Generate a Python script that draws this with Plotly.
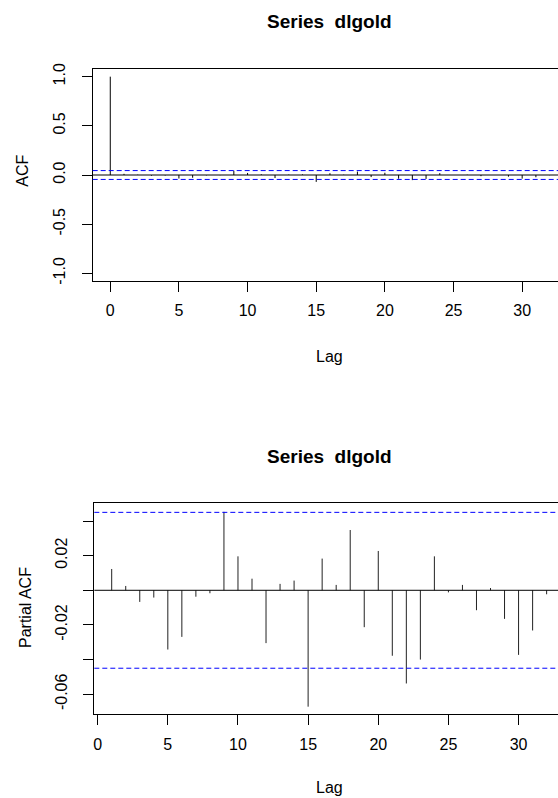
import plotly.graph_objects as go

# ---------------- data ----------------
series_title = "Series  dlgold"
acf_lags = list(range(0, 33))
acf_values = [1.0, 0.012, 0.003, -0.007, -0.005, -0.036, -0.028, -0.004, -0.002,
              0.044, 0.021, 0.007, -0.031, 0.004, 0.006, -0.070, 0.018, 0.003,
              0.035, -0.021, 0.023, -0.038, -0.052, -0.040, 0.019, -0.001, 0.003,
              -0.012, 0.001, -0.017, -0.037, -0.023, -0.002]
pacf_lags = list(range(1, 33))
pacf_values = [0.0123, 0.0025, -0.0067, -0.0042, -0.0342, -0.0269, -0.0037, -0.0017,
               0.0453, 0.0196, 0.0067, -0.0305, 0.0037, 0.0056, -0.0672, 0.0183,
               0.0031, 0.0348, -0.0213, 0.0227, -0.0378, -0.0538, -0.0400, 0.0196,
               -0.0012, 0.0031, -0.0115, 0.0013, -0.0165, -0.0373, -0.0232, -0.0023]
conf_limit = 0.045
x_tickvals = [0, 5, 10, 15, 20, 25, 30]
acf_ytickvals = [-1.0, -0.5, 0.0, 0.5, 1.0]
acf_yticktext = ["-1.0", "-0.5", "0.0", "0.5", "1.0"]
pacf_ytickvals = [-0.06, -0.04, -0.02, 0.0, 0.02, 0.04]
pacf_yticktext = ["-0.06", "", "-0.02", "", "0.02", ""]

# ---------------- layout helpers ----------------
W, H = 558, 798
FONT = "Liberation Sans, Arial, Helvetica, sans-serif"


def fx(px):
    return px / W


def fy(py):
    return 1 - py / H


def stems(lags, vals):
    xs, ys = [], []
    for l, v in zip(lags, vals):
        xs += [l, l, None]
        ys += [0, v, None]
    return xs, ys


fig = go.Figure()

ax, ay = stems(acf_lags, acf_values)
fig.add_trace(go.Scatter(x=ax, y=ay, mode="lines", line=dict(color="black", width=1),
                         xaxis="x", yaxis="y", showlegend=False, hoverinfo="skip"))
bx, by = stems(pacf_lags, pacf_values)
fig.add_trace(go.Scatter(x=bx, y=by, mode="lines", line=dict(color="#222222", width=1),
                         xaxis="x2", yaxis="y2", showlegend=False, hoverinfo="skip"))

shapes = []
for xr, yr in (("x domain", "y"), ("x2 domain", "y2")):
    shapes.append(dict(type="line", xref=xr, yref=yr, x0=0, x1=1, y0=0, y1=0,
                       line=dict(color="black", width=1)))
    for s in (1, -1):
        shapes.append(dict(type="line", xref=xr, yref=yr, x0=0, x1=1,
                           y0=s * conf_limit, y1=s * conf_limit,
                           line=dict(color="blue", width=1, dash="5px,3px")))

common_x = dict(showline=True, linecolor="black", linewidth=1, mirror=True,
                ticks="outside", ticklen=10, tickwidth=1, tickcolor="black",
                tickvals=x_tickvals, showgrid=False, zeroline=False,
                tickfont=dict(family=FONT, size=16, color="black"),
                ticklabelstandoff=5, automargin=False)
common_y = dict(showline=True, linecolor="black", linewidth=1, mirror=False,
                ticks="outside", ticklen=10, tickwidth=1, tickcolor="black",
                showgrid=False, zeroline=False, tickangle=-90,
                tickfont=dict(family=FONT, size=16, color="black"),
                ticklabelstandoff=10, automargin=False)

fig.update_layout(
    width=W, height=H,
    margin=dict(l=0, r=0, t=0, b=0, pad=0, autoexpand=False),
    paper_bgcolor="white", plot_bgcolor="white",
    showlegend=False,
    shapes=shapes,
    xaxis=dict(domain=[fx(92.7), 1], range=[-1.28, 32.61], anchor="y", **common_x),
    yaxis=dict(domain=[fy(281.2), fy(68.8)], range=[-1.08, 1.08], anchor="x",
               tickvals=acf_ytickvals, ticktext=acf_yticktext, **common_y),
    xaxis2=dict(domain=[fx(94.3), 1], range=[-0.24, 32.81], anchor="y2", **common_x),
    yaxis2=dict(domain=[fy(714.3), fy(503.0)], range=[-0.0716, 0.0504], anchor="x2",
                tickvals=pacf_ytickvals, ticktext=pacf_yticktext, **common_y),
)

ann = []


def add_text(text, px, py, size=16, bold=False, angle=0):
    ann.append(dict(text=f"<b>{text}</b>" if bold else text, x=fx(px), y=fy(py),
                    xref="paper", yref="paper", showarrow=False, textangle=angle,
                    xanchor="center", yanchor="middle",
                    font=dict(family=FONT, size=size, color="black")))


add_text(series_title, 329.2, 21.7, size=19, bold=True)
add_text(series_title, 329.3, 456, size=19, bold=True)
add_text("ACF", 21.7, 171, angle=-90)
add_text("Partial ACF", 25, 608, angle=-90)
add_text("Lag", 329, 356)
add_text("Lag", 329.3, 787.3)
fig.update_layout(annotations=ann)

# remove the browser's default 8px body margin so the figure sits at (0, 0)
fig.write_html("out.html",
               config={"displayModeBar": False, "staticPlot": True},
               post_script="document.body.style.margin='0';document.body.style.overflow='hidden';")
